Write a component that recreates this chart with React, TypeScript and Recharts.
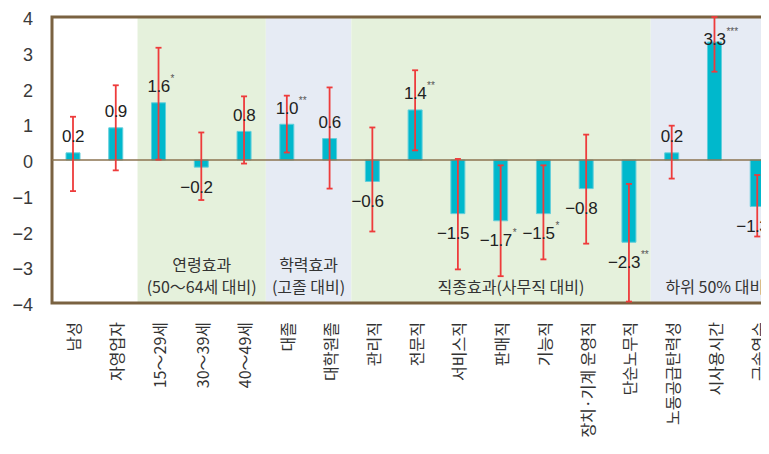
import React from 'react';
import {
  BarChart,
  Bar,
  XAxis,
  YAxis,
  ErrorBar,
  ReferenceArea,
  ReferenceLine,
  LabelList,
} from 'recharts';

// Estimated effects with 95% confidence intervals
const categories = [
  '남성', '자영업자', '15～29세', '30～39세', '40～49세', '대졸', '대학원졸',
  '관리직', '전문직', '서비스직', '판매직', '기능직', '장치·기계 운영직',
  '단순노무직', '노동공급탄력성', '시사용시간', '근속연수',
];
const values = [0.2, 0.9, 1.6, -0.2, 0.8, 1.0, 0.6, -0.6, 1.4, -1.5, -1.7, -1.5, -0.8, -2.3, 0.2, 3.3, -1.3];
const stars = ['', '', '*', '', '', '**', '', '', '**', '', '*', '*', '', '**', '', '***', '*'];
const ciLow = [-0.87, -0.29, 0.01, -1.12, -0.1, 0.21, -0.8, -2.0, 0.27, -3.06, -3.25, -2.78, -2.34, -3.96, -0.52, 2.47, -2.14];
const ciHigh = [1.21, 2.09, 3.14, 0.77, 1.78, 1.8, 2.03, 0.91, 2.51, 0.03, -0.15, -0.15, 0.71, -0.67, 0.96, 4.0, -0.42];

const yTicks = [-4, -3, -2, -1, 0, 1, 2, 3, 4];

// Shaded comparison groups
const sections = [
  { from: '15～29세', to: '40～49세', lines: ['연령효과', '(50～64세 대비)'], fill: '#E5F1DC', dx: 0 },
  { from: '대졸', to: '대학원졸', lines: ['학력효과', '(고졸 대비)'], fill: '#E6EBF4', dx: 0 },
  { from: '관리직', to: '단순노무직', lines: ['직종효과(사무직 대비)'], fill: '#E5F1DC', dx: 10 },
  { from: '노동공급탄력성', to: '근속연수', lines: ['하위 50% 대비'], fill: '#E6EBF4', dx: 0 },
];

const data = categories.map((name, i) => ({
  name,
  value: values[i],
  star: stars[i],
  err: [values[i] - ciLow[i], ciHigh[i] - values[i]],
}));

const W = 790;
const H = 446;
const M_TOP = 9;
const FONT = "'Liberation Sans', 'Noto Sans CJK KR', sans-serif";
const KR_FONT = "'Noto Sans CJK KR', sans-serif";
const LABEL_SIZE = 17;

const charW = (c: string) => (c === '.' ? 4.2 : 8.9);
const textHalf = (s: string) => s.split('').reduce((a, c) => a + charW(c), 0) / 2;

const fmt = (v: number) => Math.abs(v).toFixed(1);

const ValueLabel = (props: any) => {
  const { x, y, width, height, index } = props;
  const v = values[index];
  const star = stars[index];
  const top = Math.min(y, y + height);
  const bottom = Math.max(y, y + height);
  const cx = x + width / 2;
  const cy = v >= 0 ? Math.max(top - 16, M_TOP + 22) : bottom + 20;
  const mag = fmt(v);
  const half = textHalf(mag);
  return (
    <g fontFamily={FONT}>
      {v < 0 && (
        <text x={cx - half} y={cy} textAnchor="end" dominantBaseline="central" fontSize={LABEL_SIZE} fill="#222">
          −
        </text>
      )}
      <text x={cx} y={cy} textAnchor="middle" dominantBaseline="central" fontSize={LABEL_SIZE} fill="#222" letterSpacing={-0.5}>
        {mag}
      </text>
      {star && (
        <text x={cx + half + 1} y={cy - 8} textAnchor="start" dominantBaseline="central" fontSize={10} fill="#555">
          {star}
        </text>
      )}
    </g>
  );
};

const XTick = (props: any) => {
  const { x, payload } = props;
  const ty = 314;
  return (
    <text
      x={x}
      y={ty}
      transform={`rotate(-90, ${x}, ${ty})`}
      textAnchor="end"
      dominantBaseline="central"
      fontSize={16}
      fill="#333"
      fontFamily={KR_FONT}
    >
      {payload.value}
    </text>
  );
};

const YTick = (props: any) => {
  const { x, y, payload } = props;
  const v = payload.value as number;
  return (
    <text x={x} y={y + 2} textAnchor="end" dominantBaseline="central" fontSize={18} fill="#3a3a3a" fontFamily={FONT}>
      {v < 0 ? `−${Math.abs(v)}` : `${v}`}
    </text>
  );
};

const sectionLabel = (lines: string[], dx: number) => (props: any) => {
  const vb = props.viewBox || {};
  const cx = vb.x + vb.width / 2 + dx;
  const bottom = vb.y + vb.height;
  return (
    <g>
      {lines.map((t, i) => (
        <text
          key={t}
          x={cx}
          y={bottom - 17 - (lines.length - 1 - i) * 22}
          textAnchor="middle"
          dominantBaseline="central"
          fontSize={16}
          fill="#333"
          fontFamily={KR_FONT}
        >
          {t}
        </text>
      ))}
    </g>
  );
};

export default function App() {
  return (
    <div style={{ width: W, height: H, marginBottom: -8 }}>
      <style>{'html, body { overflow: hidden; }'}</style>
      <BarChart width={W} height={H} data={data} margin={{ top: M_TOP, right: 19, bottom: 0, left: 0 }}>
        <XAxis
          dataKey="name"
          interval={0}
          tickLine={false}
          axisLine={false}
          height={151}
          tick={<XTick />}
        />
        <YAxis
          type="number"
          domain={[-4, 4]}
          ticks={yTicks}
          width={44}
          tickLine={false}
          axisLine={false}
          tickSize={0}
          tickMargin={19}
          tick={<YTick />}
        />
        {sections.map((s) => (
          <ReferenceArea
            key={s.from}
            x1={s.from}
            x2={s.to}
            y1={-4}
            y2={4}
            fill={s.fill}
            fillOpacity={1}
            stroke="none"
            label={sectionLabel(s.lines, s.dx)}
          />
        ))}
        <ReferenceLine y={0} stroke="#8B7350" strokeWidth={1.5} />
        <Bar dataKey="value" barSize={14} fill="#00B8CC" stroke="#62CEDB" strokeWidth={1} isAnimationActive={false}>
          <ErrorBar dataKey="err" width={3} stroke="#EE3B3B" strokeWidth={1.8} direction="y" />
          <LabelList dataKey="value" content={<ValueLabel />} />
        </Bar>
        <ReferenceArea y1={-4} y2={4} fill="none" stroke="#7A6241" strokeWidth={3} />
      </BarChart>
    </div>
  );
}
